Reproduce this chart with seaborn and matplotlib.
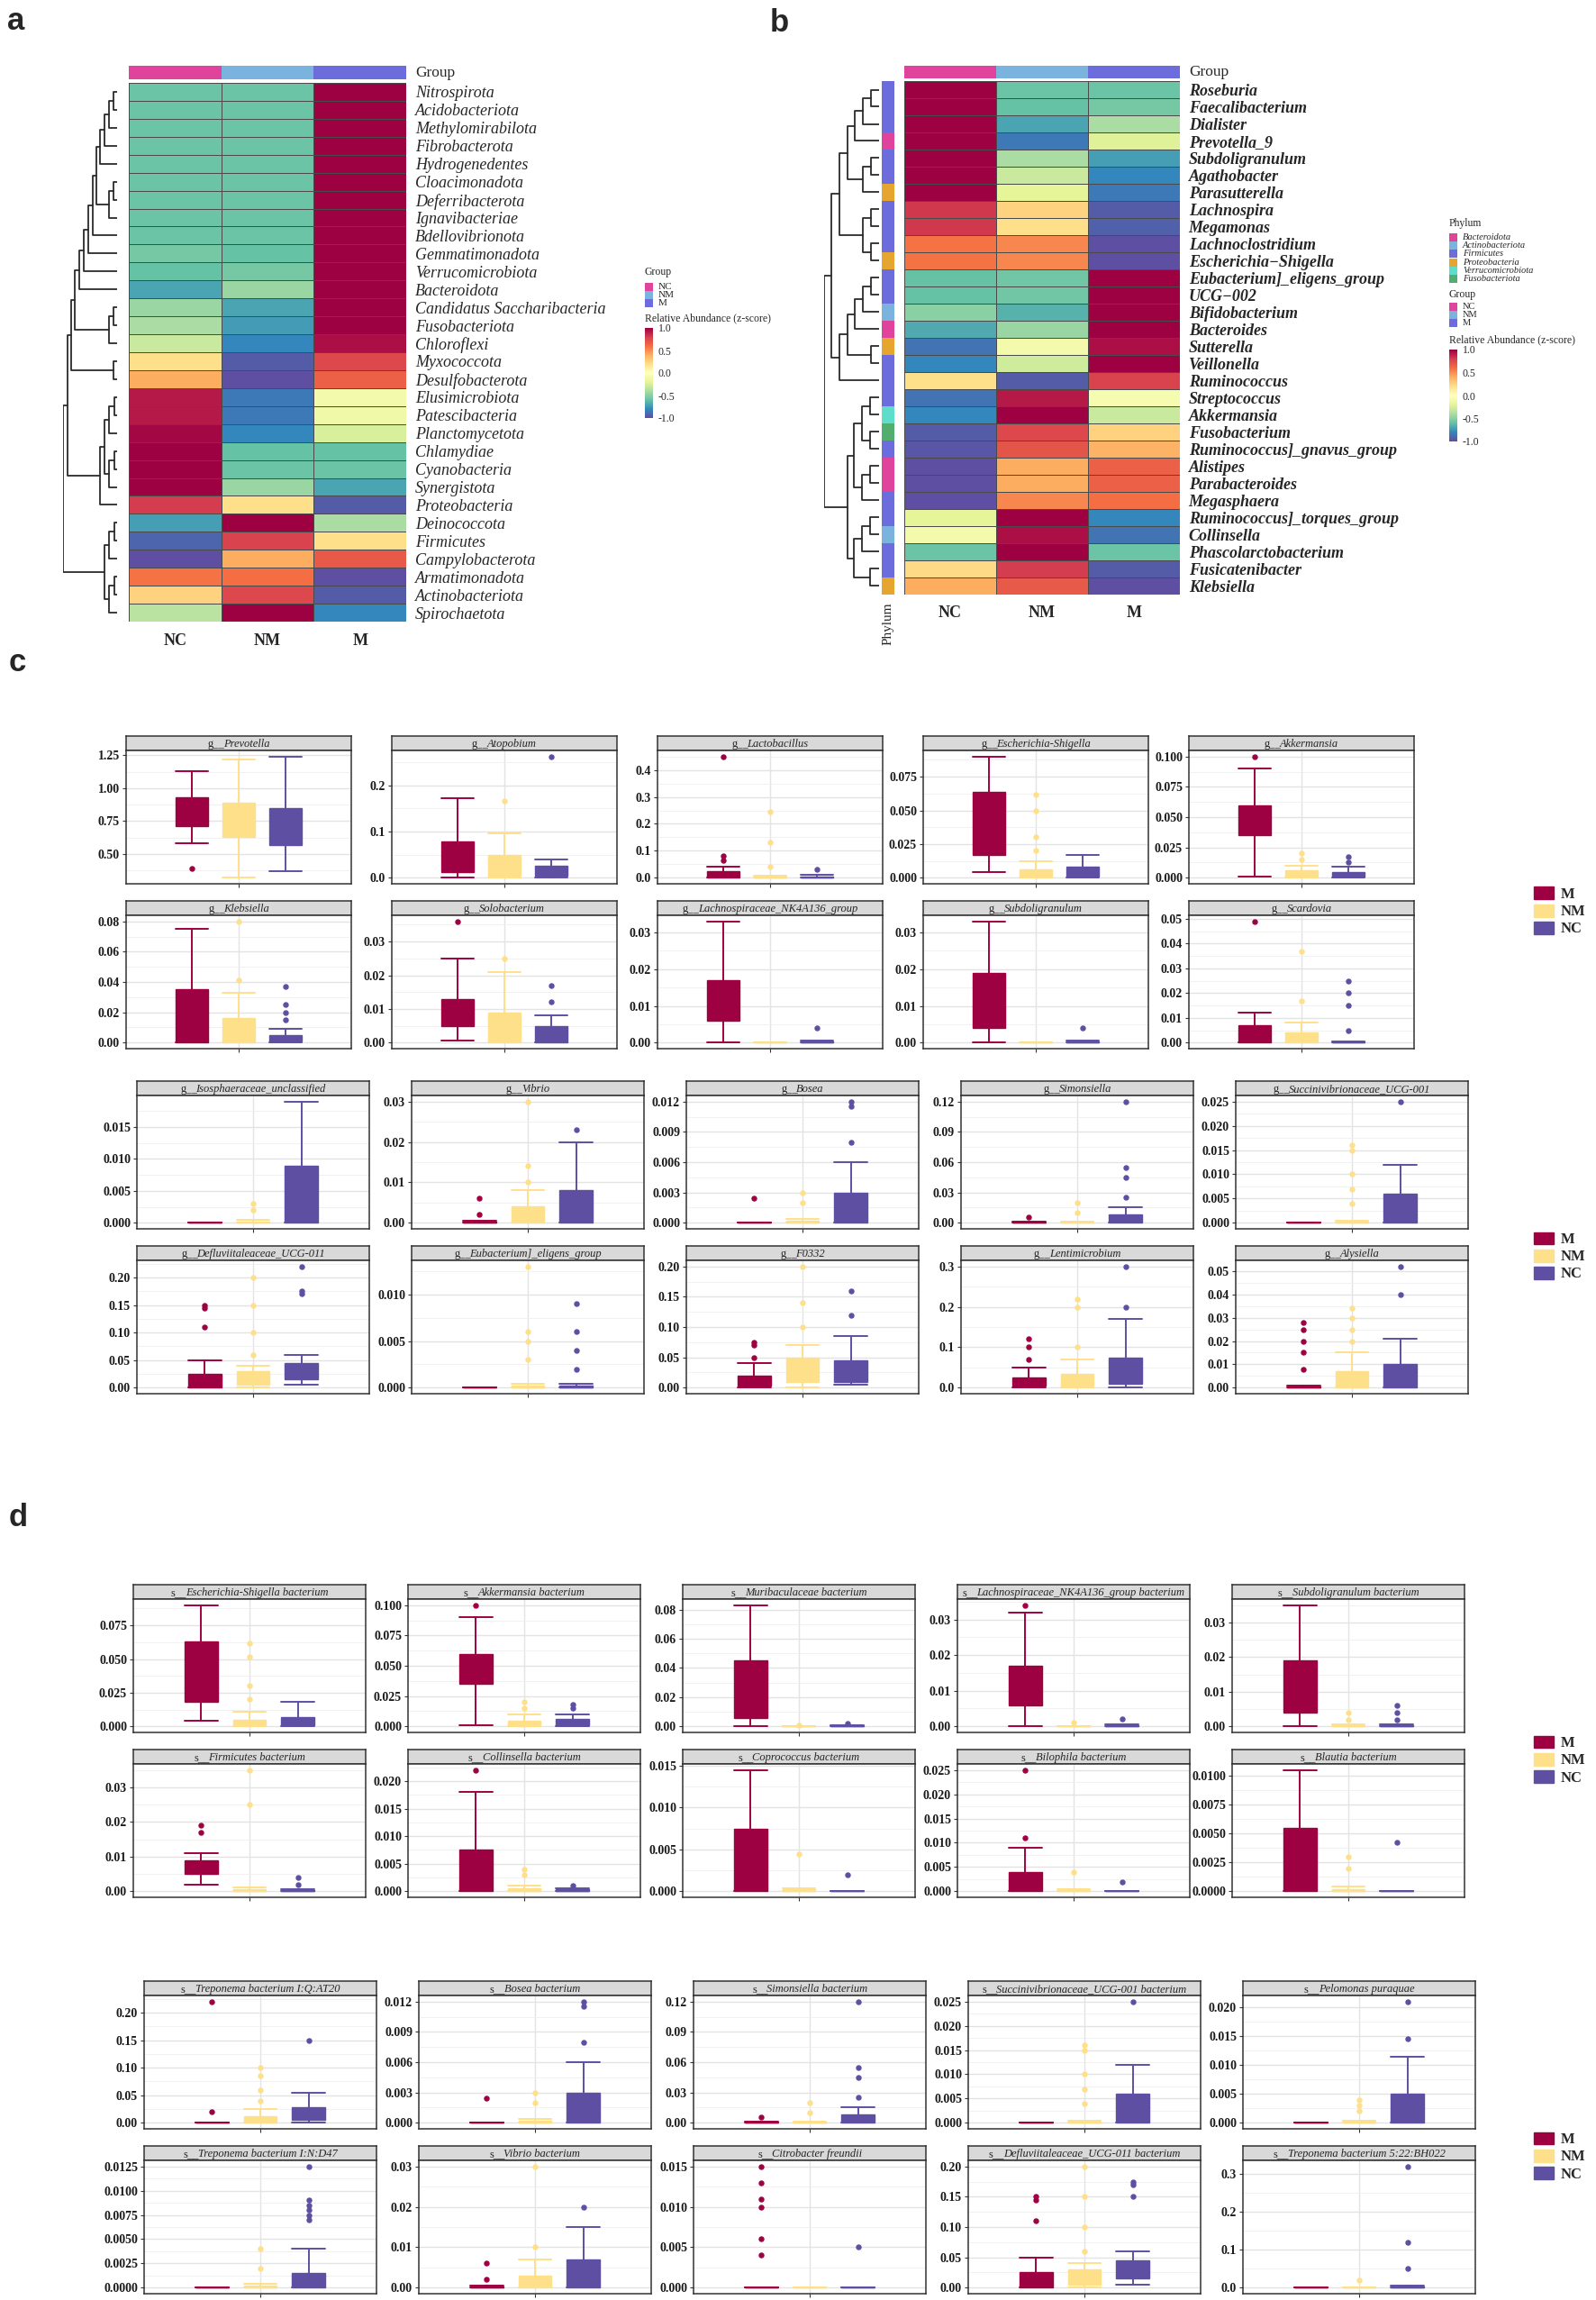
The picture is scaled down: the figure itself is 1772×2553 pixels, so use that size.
import numpy as np
import pandas as pd
import matplotlib
matplotlib.use("Agg")
import matplotlib.pyplot as plt
import seaborn as sns
from matplotlib.colors import ListedColormap
from matplotlib.patches import Patch, Rectangle
from matplotlib.font_manager import FontProperties

sns.set_theme(style="white")
plt.rcParams['font.family'] = ['Liberation Serif', 'DejaVu Serif']

# ---------------- panel a : phylum z-scores ----------------
phyla_a = ["Nitrospirota", "Acidobacteriota", "Methylomirabilota", "Fibrobacterota",
           "Hydrogenedentes", "Cloacimonadota", "Deferribacterota", "Ignavibacteriae",
           "Bdellovibrionota", "Gemmatimonadota", "Verrucomicrobiota", "Bacteroidota",
           "Candidatus Saccharibacteria", "Fusobacteriota", "Chloroflexi", "Myxococcota",
           "Desulfobacterota", "Elusimicrobiota", "Patescibacteria", "Planctomycetota",
           "Chlamydiae", "Cyanobacteria", "Synergistota", "Proteobacteria", "Deinococcota",
           "Firmicutes", "Campylobacterota", "Armatimonadota", "Actinobacteriota", "Spirochaetota"]
nc_a = [-0.58, -0.58, -0.58, -0.58, -0.58, -0.58, -0.58, -0.58, -0.58, -0.55, -0.6, -0.7,
        -0.45, -0.4, -0.3, 0.2, 0.4, 0.92, 0.92, 0.97, 1.15, 1.15, 1.15, 0.8, -0.72,
        -0.92, -1.0, 0.58, 0.25, -0.35]
nm_a = [-0.58, -0.58, -0.58, -0.58, -0.58, -0.58, -0.58, -0.58, -0.58, -0.6, -0.55, -0.45,
        -0.7, -0.73, -0.8, -0.95, -1.0, -0.85, -0.85, -0.8, -0.6, -0.58, -0.45, 0.2, 1.1,
        0.78, 0.4, 0.6, 0.75, 1.1]
m_a = [1.15, 1.15, 1.15, 1.15, 1.15, 1.15, 1.15, 1.15, 1.15, 1.15, 1.15, 1.15, 1.15,
       1.13, 0.95, 0.75, 0.65, -0.1, -0.12, -0.25, -0.6, -0.58, -0.7, -0.95, -0.4, 0.2,
       0.68, -1.0, -0.95, -0.8]

# dendrogram merges: (left, right, height)
a_n1 = ((((0, 1, 4.3), 2, 9.3), 3, 14.0), 4, 18.6)
a_n2 = ((5, 6, 4.3), 7, 9.3)
a_n3 = (((((a_n1, a_n2, 23.0), 8, 27.5), 9, 32.5), 10, 37.1), 11, 42.1)
a_n4 = ((12, 13, 4.3), 14, 9.3)
a_n5 = ((a_n3, a_n4, 46.8), (15, 16, 4.3), 51.4)
a_n6 = ((((17, 18, 3.5), 19, 8.8), ((20, 21, 3.5), 22, 8.8), 13.7), 23, 18.6)
a_n7 = (((24, 25, 3.5), 26, 8.8), ((27, 28, 3.5), 29, 8.8), 14.0)
tree_a = ((a_n5, a_n6, 55.3), a_n7, 60.2)

# ---------------- panel b : genus z-scores ----------------
genera_b = ["Roseburia", "Faecalibacterium", "Dialister", "Prevotella_9", "Subdoligranulum",
            "Agathobacter", "Parasutterella", "Lachnospira", "Megamonas", "Lachnoclostridium",
            "Escherichia\u2212Shigella", "Eubacterium]_eligens_group", "UCG\u2212002",
            "Bifidobacterium", "Bacteroides", "Sutterella", "Veillonella", "Ruminococcus",
            "Streptococcus", "Akkermansia", "Fusobacterium", "Ruminococcus]_gnavus_group",
            "Alistipes", "Parabacteroides", "Megasphaera", "Ruminococcus]_torques_group",
            "Collinsella", "Phascolarctobacterium", "Fusicatenibacter", "Klebsiella"]
nc_b = [1.15, 1.15, 1.1, 1.0, 1.0, 1.0, 1.0, 0.82, 0.82, 0.58, 0.58, -0.6, -0.6, -0.5,
        -0.68, -0.87, -0.8, 0.2, -0.87, -0.8, -0.95, -0.97, -1.0, -1.0, -1.0, -0.2, -0.1,
        -0.58, 0.22, 0.4]
nm_b = [-0.58, -0.6, -0.7, -0.85, -0.4, -0.3, -0.2, 0.25, 0.2, 0.52, 0.52, -0.57, -0.57,
        -0.65, -0.45, -0.1, -0.28, -0.95, 0.92, 1.0, 0.75, 0.7, 0.4, 0.4, 0.52, 1.0, 0.95,
        1.15, 0.8, 0.68]
m_b = [-0.58, -0.55, -0.4, -0.22, -0.72, -0.8, -0.85, -0.95, -0.93, -1.0, -1.0, 1.15, 1.15,
       1.15, 1.15, 0.95, 1.05, 0.78, -0.08, -0.3, 0.25, 0.38, 0.65, 0.65, 0.6, -0.8, -0.87,
       -0.58, -0.95, -1.0]
phylum_names = ["Bacteroidota", "Actinobacteriota", "Firmicutes", "Proteobacteria",
                "Verrucomicrobiota", "Fusobacteriota"]
phylum_colors = ["#E0439B", "#7AB3DD", "#6C6CDC", "#E5A52F", "#5FDDCB", "#52AE6E"]
phylum_b = [2, 2, 2, 0, 2, 2, 3, 2, 2, 2, 3, 2, 2, 1, 0, 3, 2, 2, 2, 4, 5, 2, 0, 0, 2, 2, 1,
            2, 2, 3]

b_t1 = ((((0, 1, 8.5), 2, 17.5), 3, 26.5), ((4, 5, 8.5), 6, 17.5), 34.5)
b_t2 = ((7, 8, 8.5), (9, 10, 8.5), 17.5)
b_t3 = (((((11, 12, 8.5), 13, 17.5), 14, 26.5), (15, 16, 8.5), 34.5), 17, 43.0)
b_u1 = (((18, 19, 9.0), (20, 21, 9.0), 18.5), ((22, 23, 9.0), 24, 18.5), 27.5)
b_u2 = (((25, 26, 9.0), 27, 18.5), (28, 29, 9.0), 27.5)
tree_b = (((b_t1, b_t2, 43.0), b_t3, 52.0), (b_u1, b_u2, 34.7), 60.0)

group_names = ["NC", "NM", "M"]
group_colors = ["#E0439B", "#7AB3DD", "#6C6CDC"]

# ---------------- panels c / d : boxplot summaries (M, NM, NC) ----------------
box_groups = ["M", "NM", "NC"]
box_colors = ["#9E0142", "#FEE08B", "#5E4FA2"]

c1_titles = ["Prevotella", "Atopobium", "Lactobacillus", "Escherichia-Shigella", "Akkermansia",
             "Klebsiella", "Solobacterium", "Lachnospiraceae_NK4A136_group", "Subdoligranulum",
             "Scardovia"]
c1_lo = [[0.58, 0.32, 0.37], [0, 0, 0], [0, 0, 0], [0.004, 0, 0], [0.001, 0, 0], [0, 0, 0],
         [0.0005, 0, 0], [0, 0, 0], [0, 0, 0], [0, 0, 0]]
c1_q1 = [[0.71, 0.63, 0.57], [0.012, 0.004, 0.004], [0, 0, 0], [0.017, 0.001, 0.001],
         [0.035, 0.001, 0.001], [0, 0, 0.001], [0.005, 0, 0], [0.006, 0, 0], [0.004, 0, 0],
         [0, 0, 0]]
c1_med = [[0.86, 0.75, 0.70], [0.04, 0.02, 0.01], [0.01, 0.001, 0.001], [0.04, 0.003, 0.003],
          [0.05, 0.003, 0.002], [0.01, 0.005, 0.003], [0.009, 0.003, 0.001], [0.01, 0, 0],
          [0.01, 0, 0], [0.002, 0.001, 0]]
c1_q3 = [[0.93, 0.89, 0.85], [0.078, 0.05, 0.026], [0.025, 0.003, 0.005], [0.064, 0.006, 0.008],
         [0.06, 0.006, 0.005], [0.035, 0.016, 0.005], [0.013, 0.009, 0.005], [0.017, 0, 0.0003],
         [0.019, 0, 0.0003], [0.007, 0.004, 0.0003]]
c1_hi = [[1.13, 1.22, 1.24], [0.172, 0.096, 0.04], [0.04, 0.006, 0.01], [0.09, 0.012, 0.017],
         [0.09, 0.01, 0.009], [0.075, 0.033, 0.009], [0.025, 0.021, 0.008], [0.033, 0, 0.0005],
         [0.033, 0, 0.0005], [0.012, 0.008, 0.0005]]
c1_out = [[[0.39], [], []], [[], [0.166], [0.262]], [[0.065, 0.082, 0.45], [0.04, 0.13, 0.245], [0.03]],
          [[], [0.02, 0.03, 0.05, 0.062], []], [[0.1], [0.015, 0.02], [0.013, 0.017]],
          [[], [0.041, 0.08], [0.015, 0.02, 0.025, 0.037]], [[0.036], [0.025], [0.012, 0.017]],
          [[], [], [0.004]], [[], [], [0.004]], [[0.049], [0.017, 0.037], [0.005, 0.015, 0.02, 0.025]]]
c1_step = [0.25, 0.1, 0.1, 0.025, 0.025, 0.02, 0.01, 0.01, 0.01, 0.01]

c2_titles = ["Isosphaeraceae_unclassified", "Vibrio", "Bosea", "Simonsiella",
             "Succinivibrionaceae_UCG-001", "Defluviitaleaceae_UCG-011",
             "Eubacterium]_eligens_group", "F0332", "Lentimicrobium", "Alysiella"]
c2_lo = [[0, 0, 0], [0, 0, 0], [0, 0, 0], [0, 0, 0], [0, 0, 0], [0, 0, 0.005], [0, 0, 0],
         [0, 0, 0.005], [0, 0, 0], [0, 0, 0]]
c2_q1 = [[0, 0, 0], [0, 0, 0], [0, 0, 0], [0, 0, 0], [0, 0, 0], [0, 0.005, 0.015], [0, 0, 0],
         [0.003, 0.01, 0.01], [0.005, 0.005, 0.01], [0, 0, 0]]
c2_med = [[0, 0, 0.003], [0, 0.001, 0.002], [0, 0, 0.001], [0, 0, 0.002], [0, 0, 0.001],
          [0.01, 0.015, 0.025], [0, 0, 0], [0.01, 0.03, 0.02], [0.015, 0.015, 0.03],
          [0, 0.002, 0.003]]
c2_q3 = [[0, 0.0002, 0.009], [0.0003, 0.004, 0.008], [0, 0.0002, 0.003], [0.0005, 0.0005, 0.008],
         [0, 0.0003, 0.006], [0.025, 0.03, 0.045], [0, 0.0002, 0.0002], [0.02, 0.05, 0.045],
         [0.025, 0.035, 0.075], [0.0005, 0.007, 0.01]]
c2_hi = [[0, 0.0004, 0.019], [0.0005, 0.008, 0.02], [0, 0.0004, 0.006], [0.001, 0.001, 0.015],
         [0, 0.0005, 0.012], [0.05, 0.04, 0.06], [0, 0.0004, 0.0004], [0.04, 0.07, 0.085],
         [0.05, 0.07, 0.17], [0.001, 0.015, 0.021]]
c2_out = [[[], [0.002, 0.003], []], [[0.002, 0.006], [0.01, 0.014, 0.03], [0.023]],
          [[0.0024], [0.002, 0.003], [0.008, 0.0115, 0.012]],
          [[0.006], [0.01, 0.02], [0.025, 0.045, 0.055, 0.12]],
          [[], [0.004, 0.007, 0.01, 0.015, 0.016], [0.025]],
          [[0.11, 0.145, 0.15], [0.06, 0.1, 0.15, 0.2], [0.17, 0.175, 0.22]],
          [[], [0.003, 0.005, 0.006, 0.013], [0.002, 0.004, 0.006, 0.009]],
          [[0.05, 0.07, 0.075], [0.1, 0.14, 0.2], [0.12, 0.16]],
          [[0.07, 0.1, 0.12], [0.1, 0.2, 0.22], [0.2, 0.3]],
          [[0.008, 0.015, 0.02, 0.025, 0.028], [0.02, 0.025, 0.03, 0.034], [0.04, 0.052]]]
c2_step = [0.005, 0.01, 0.003, 0.03, 0.005, 0.05, 0.005, 0.05, 0.1, 0.01]

d1_titles = ["Escherichia-Shigella bacterium", "Akkermansia bacterium", "Muribaculaceae bacterium",
             "Lachnospiraceae_NK4A136_group bacterium", "Subdoligranulum bacterium",
             "Firmicutes bacterium", "Collinsella bacterium", "Coprococcus bacterium",
             "Bilophila bacterium", "Blautia bacterium"]
d1_lo = [[0.004, 0, 0], [0.001, 0, 0], [0, 0, 0], [0, 0, 0], [0, 0, 0], [0.002, 0, 0],
         [0, 0, 0], [0, 0, 0], [0, 0, 0], [0, 0, 0]]
d1_q1 = [[0.018, 0.001, 0.001], [0.035, 0.001, 0.001], [0.006, 0, 0], [0.006, 0, 0],
         [0.004, 0, 0], [0.005, 0, 0], [0, 0, 0], [0, 0, 0], [0, 0, 0], [0, 0, 0]]
d1_med = [[0.04, 0.003, 0.003], [0.05, 0.003, 0.003], [0.02, 0, 0], [0.01, 0, 0], [0.01, 0, 0],
          [0.007, 0, 0], [0.002, 0, 0], [0.002, 0, 0], [0.001, 0, 0], [0.001, 0, 0]]
d1_q3 = [[0.063, 0.005, 0.007], [0.06, 0.005, 0.006], [0.045, 0, 0.0005], [0.017, 0, 0.0003],
         [0.019, 0.0003, 0.0003], [0.009, 0.0005, 0.0003], [0.0075, 0.0005, 0.0003],
         [0.0075, 0.0002, 0], [0.004, 0.0003, 0], [0.0055, 0.0002, 0]]
d1_hi = [[0.09, 0.011, 0.018], [0.09, 0.01, 0.01], [0.083, 0, 0.001], [0.032, 0, 0.0005],
         [0.035, 0.0005, 0.0005], [0.011, 0.001, 0.0005], [0.018, 0.001, 0.0005],
         [0.0145, 0.0004, 0], [0.009, 0.0005, 0], [0.0105, 0.0004, 0]]
d1_out = [[[], [0.02, 0.03, 0.052, 0.062], []], [[0.1], [0.015, 0.02], [0.015, 0.018]],
          [[], [0.001], [0.002]], [[0.034], [0.001], [0.002]],
          [[], [0.002, 0.004], [0.002, 0.004, 0.006]], [[0.017, 0.019], [0.025, 0.035], [0.002, 0.004]],
          [[0.022], [0.003, 0.004], [0.001]], [[], [0.0045], [0.002]],
          [[0.011, 0.025], [0.004], [0.002]], [[], [0.002, 0.003], [0.0042]]]
d1_step = [0.025, 0.025, 0.02, 0.01, 0.01, 0.01, 0.005, 0.005, 0.005, 0.0025]

d2_titles = ["Treponema bacterium I:Q:AT20", "Bosea bacterium", "Simonsiella bacterium",
             "Succinivibrionaceae_UCG-001 bacterium", "Pelomonas puraquae",
             "Treponema bacterium I:N:D47", "Vibrio bacterium", "Citrobacter freundii",
             "Defluviitaleaceae_UCG-011 bacterium", "Treponema bacterium 5:22:BH022"]
d2_lo = [[0, 0, 0], [0, 0, 0], [0, 0, 0], [0, 0, 0], [0, 0, 0], [0, 0, 0], [0, 0, 0],
         [0, 0, 0], [0, 0, 0.005], [0, 0, 0]]
d2_q1 = [[0, 0, 0.005], [0, 0, 0], [0, 0, 0], [0, 0, 0], [0, 0, 0], [0, 0, 0], [0, 0, 0],
         [0, 0, 0], [0, 0.005, 0.015], [0, 0, 0]]
d2_med = [[0, 0.005, 0.015], [0, 0, 0.001], [0, 0, 0.002], [0, 0, 0.001], [0, 0, 0.001],
          [0, 0, 0.0003], [0, 0.001, 0.002], [0, 0, 0], [0.01, 0.015, 0.025], [0, 0, 0]]
d2_q3 = [[0.0005, 0.012, 0.028], [0, 0.0002, 0.003], [0.0005, 0.0005, 0.008], [0, 0.0003, 0.006],
         [0, 0.0002, 0.005], [0, 0.0002, 0.0015], [0.0003, 0.003, 0.007], [0, 0, 0],
         [0.025, 0.03, 0.045], [0, 0.0005, 0.003]]
d2_hi = [[0.001, 0.025, 0.055], [0, 0.0004, 0.006], [0.001, 0.001, 0.015], [0, 0.0005, 0.012],
         [0, 0.0004, 0.0115], [0, 0.0004, 0.004], [0.0005, 0.007, 0.015], [0, 0, 0],
         [0.05, 0.04, 0.06], [0, 0.001, 0.006]]
d2_out = [[[0.02, 0.22], [0.04, 0.06, 0.085, 0.1], [0.15]],
          [[0.0024], [0.002, 0.003], [0.008, 0.0115, 0.012]],
          [[0.006], [0.01, 0.02], [0.025, 0.045, 0.055, 0.12]],
          [[], [0.004, 0.007, 0.01, 0.015, 0.016], [0.025]],
          [[], [0.002, 0.003, 0.004], [0.0145, 0.021]],
          [[], [0.002, 0.004], [0.007, 0.0075, 0.008, 0.0085, 0.009, 0.0125]],
          [[0.002, 0.006], [0.01, 0.03], [0.02]],
          [[0.004, 0.006, 0.01, 0.011, 0.013, 0.015], [], [0.005]],
          [[0.11, 0.145, 0.15], [0.06, 0.1, 0.15, 0.2], [0.15, 0.17, 0.175]],
          [[], [0.02], [0.05, 0.12, 0.32]]]
d2_step = [0.05, 0.003, 0.03, 0.005, 0.005, 0.0025, 0.01, 0.005, 0.05, 0.1]

# ---------------- figure ----------------
W, H = 1772, 2553
fig = plt.figure(figsize=(W / 100, H / 100), dpi=100)
renderer = fig.canvas.get_renderer()


def box(x0, y0, x1, y1):
    return [x0 / W, 1 - y1 / H, (x1 - x0) / W, (y1 - y0) / H]


ov = fig.add_axes([0, 0, 1, 1])
ov.set_xlim(0, W)
ov.set_ylim(H, 0)
ov.axis("off")

for letter, x, y in [("a", 8, 33), ("b", 855, 35), ("c", 10, 745), ("d", 10, 1694)]:
    ov.text(x, y, letter, fontsize=25, fontweight="bold", family="Liberation Sans", va="baseline")


def draw_tree(ax, node):
    if isinstance(node, int):
        return node + 0.5, 0.0
    left, right, h = node
    y1, h1 = draw_tree(ax, left)
    y2, h2 = draw_tree(ax, right)
    ax.plot([h1, h, h, h2], [y1, y1, y2, y2], color="#2b2b2b", lw=1.3)
    return (y1 + y2) / 2, h


def group_bar(rect):
    ax = fig.add_axes(box(*rect))
    sns.heatmap(np.array([[0, 1, 2]]), ax=ax, cmap=ListedColormap(group_colors), vmin=-0.5,
                vmax=2.5, cbar=False, xticklabels=False, yticklabels=False)


def z_heatmap(rect, cbar_rect, df, bold):
    ax = fig.add_axes(box(*rect))
    cax = fig.add_axes(box(*cbar_rect))
    sns.heatmap(df, ax=ax, cmap="Spectral_r", vmin=-1, vmax=1, linewidths=0.5,
                linecolor="#4a4a4a", cbar_ax=cax,
                cbar_kws={"ticks": [-1, -0.5, 0, 0.5, 1]}, xticklabels=True, yticklabels=True)
    ax.yaxis.tick_right()
    ax.set_yticklabels(df.index, rotation=0, fontstyle="italic", fontsize=13,
                       fontweight="bold" if bold else "normal")
    ax.set_xticklabels(df.columns, rotation=0, fontsize=13, fontweight="bold")
    ax.tick_params(axis="y", length=0, pad=7)
    ax.tick_params(axis="x", length=0, pad=9)
    ax.set_xlabel("")
    ax.set_ylabel("")
    cax.set_yticklabels(["-1.0", "-0.5", "0.0", "0.5", "1.0"], fontsize=8.5)
    cax.tick_params(axis="y", length=3, color="white", direction="in", pad=4)
    ax.collections[0].colorbar.outline.set_visible(False)
    return ax


def legend_squares(x, y0, labels, colors, italic, size):
    for i, (lab, col) in enumerate(zip(labels, colors)):
        y = y0 + i * 9.3
        ov.add_patch(Rectangle((x, y), 9, 9.3, color=col, lw=0))
        ov.text(x + 15, y + 4.8, lab, fontsize=size, va="center",
                fontstyle="italic" if italic else "normal")


# panel a
df_a = pd.DataFrame({"NC": nc_a, "NM": nm_a, "M": m_a}, index=phyla_a)
group_bar((143, 73, 451, 88))
z_heatmap((143, 92, 451, 690), (716, 364, 725, 464), df_a, bold=False)
ov.text(461, 81, "Group", fontsize=12.5, va="center")
den_a = fig.add_axes(box(70, 92, 130, 690))
draw_tree(den_a, tree_a)
den_a.set_ylim(len(phyla_a), 0)
den_a.set_xlim(60.2, 0)
den_a.axis("off")
ov.text(716, 302, "Group", fontsize=8.5, va="center")
legend_squares(716, 313.5, group_names, group_colors, False, 8)
ov.text(716, 353, "Relative Abundance (z-score)", fontsize=8.5, va="center")

# panel b
df_b = pd.DataFrame({"NC": nc_b, "NM": nm_b, "M": m_b}, index=genera_b)
group_bar((1004, 73, 1310, 87))
z_heatmap((1004, 90, 1310, 660), (1609, 388, 1618, 490), df_b, bold=True)
ov.text(1320, 80, "Group", fontsize=12.5, va="center")
strip_b = fig.add_axes(box(979, 90, 993, 660))
sns.heatmap(np.array(phylum_b).reshape(-1, 1), ax=strip_b, cmap=ListedColormap(phylum_colors),
            vmin=-0.5, vmax=5.5, cbar=False, xticklabels=False, yticklabels=False)
ov.text(986, 669, "Phylum", fontsize=11, rotation=90, ha="center", va="top")
den_b = fig.add_axes(box(915, 90, 975.5, 660))
draw_tree(den_b, tree_b)
den_b.set_ylim(len(genera_b), 0)
den_b.set_xlim(60.0, 0)
den_b.axis("off")
ov.text(1609, 248, "Phylum", fontsize=8.5, va="center")
legend_squares(1609, 258.6, phylum_names, phylum_colors, True, 7.5)
ov.text(1609, 327, "Group", fontsize=8.5, va="center")
legend_squares(1609, 335.5, group_names, group_colors, False, 7.5)
ov.text(1609, 377, "Relative Abundance (z-score)", fontsize=8.5, va="center")

# panels c / d
PH, SH, ROW = 148, 16, 183


def decimals(step):
    s = f"{step:.6f}".rstrip("0")
    return len(s.split(".")[1])


def strip_title(sax, prefix, name, width_px):
    # upright prefix followed by the italic taxon name, centred as one string
    t1 = sax.text(0, 0.45, prefix, transform=sax.transAxes, ha="left", va="center", fontsize=9)
    t2 = sax.text(0, 0.45, name, transform=sax.transAxes, ha="left", va="center", fontsize=9,
                  fontstyle="italic")
    w1 = t1.get_window_extent(renderer).width - 1.5
    w2 = t2.get_window_extent(renderer).width
    start = (width_px - w1 - w2) / 2 / width_px
    t1.set_x(start)
    t2.set_x(start + w1 / width_px)


def draw_set(prefix, titles, lo, q1, med, q3, hi, out, steps, left, top, pw, pitch):
    for k in range(10):
        r, c = divmod(k, 5)
        x0 = left + c * pitch
        ys = top + r * ROW
        sax = fig.add_axes(box(x0, ys, x0 + pw, ys + SH))
        sax.set_facecolor("#D9D9D9")
        sax.set_xticks([])
        sax.set_yticks([])
        for sp in sax.spines.values():
            sp.set_color("#333333")
            sp.set_linewidth(1.1)
        strip_title(sax, prefix, titles[k], pw)

        ax = fig.add_axes(box(x0, ys + SH, x0 + pw, ys + SH + PH))
        stats = [dict(whislo=lo[k][i], q1=q1[k][i], med=med[k][i], q3=q3[k][i],
                      whishi=hi[k][i], fliers=out[k][i], label=box_groups[i]) for i in range(3)]
        art = ax.bxp(stats, positions=[0.75, 1.0, 1.25], widths=0.17, capwidths=0.17,
                     patch_artist=True, manage_ticks=False)
        for i, col in enumerate(box_colors):
            art["boxes"][i].set(facecolor=col, edgecolor=col, linewidth=1.0)
            art["medians"][i].set(color=col, linewidth=1.0)
            for ln in art["whiskers"][2 * i:2 * i + 2] + art["caps"][2 * i:2 * i + 2]:
                ln.set(color=col, linewidth=1.4)
            art["fliers"][i].set(marker="o", markerfacecolor=col, markeredgecolor=col,
                                 markersize=3.6, linestyle="none")
        vals = lo[k] + hi[k] + [v for o in out[k] for v in o]
        vmin, vmax = min(vals), max(vals)
        pad = 0.05 * (vmax - vmin)
        ax.set_ylim(vmin - pad, vmax + pad)
        ax.set_xlim(0.4, 1.6)
        step = steps[k]
        k0 = np.ceil((vmin - pad) / step - 1e-9)
        k1 = np.floor((vmax + pad) / step + 1e-9)
        major = np.arange(k0, k1 + 1) * step
        minor = [m for m in (np.arange(k0 - 1, k1 + 1) + 0.5) * step if vmin - pad < m < vmax + pad]
        ax.set_yticks(major)
        ax.set_yticks(minor, minor=True)
        ax.set_yticklabels([f"{t + 0.0:.{decimals(step)}f}" for t in major],
                           fontsize=10, fontweight="bold", color="#1a1a1a")
        ax.set_xticks([1.0])
        ax.set_xticklabels([""])
        ax.set_axisbelow(True)
        ax.grid(which="major", color="#E3E3E3", linewidth=1.0)
        ax.grid(which="minor", axis="y", color="#EFEFEF", linewidth=0.6)
        ax.tick_params(axis="both", which="major", length=3, width=0.8, color="#333333",
                       left=True, bottom=True, pad=2)
        ax.tick_params(axis="both", which="minor", length=0)
        ax.set_facecolor("white")
        for sp in ax.spines.values():
            sp.set_color("#333333")
            sp.set_linewidth(1.1)
    handles = [Patch(facecolor=col, edgecolor=col) for col in box_colors]
    yc = top + ROW + 12
    fig.legend(handles, box_groups, loc="center left", bbox_to_anchor=(1688 / W, 1 - yc / H),
               frameon=False, prop=FontProperties(family="Liberation Serif", weight="bold", size=12),
               handlelength=1.3, handleheight=0.9, labelspacing=0.15, handletextpad=0.5)


draw_set("g__", c1_titles, c1_lo, c1_q1, c1_med, c1_q3, c1_hi, c1_out, c1_step, 140, 817, 250, 295)
draw_set("g__", c2_titles, c2_lo, c2_q1, c2_med, c2_q3, c2_hi, c2_out, c2_step, 152, 1200, 258, 305)
draw_set("s__", d1_titles, d1_lo, d1_q1, d1_med, d1_q3, d1_hi, d1_out, d1_step, 148, 1759, 258, 305)
draw_set("s__", d2_titles, d2_lo, d2_q1, d2_med, d2_q3, d2_hi, d2_out, d2_step, 160, 2199, 258, 305)

fig.savefig("out.png", dpi=100, facecolor="white")
